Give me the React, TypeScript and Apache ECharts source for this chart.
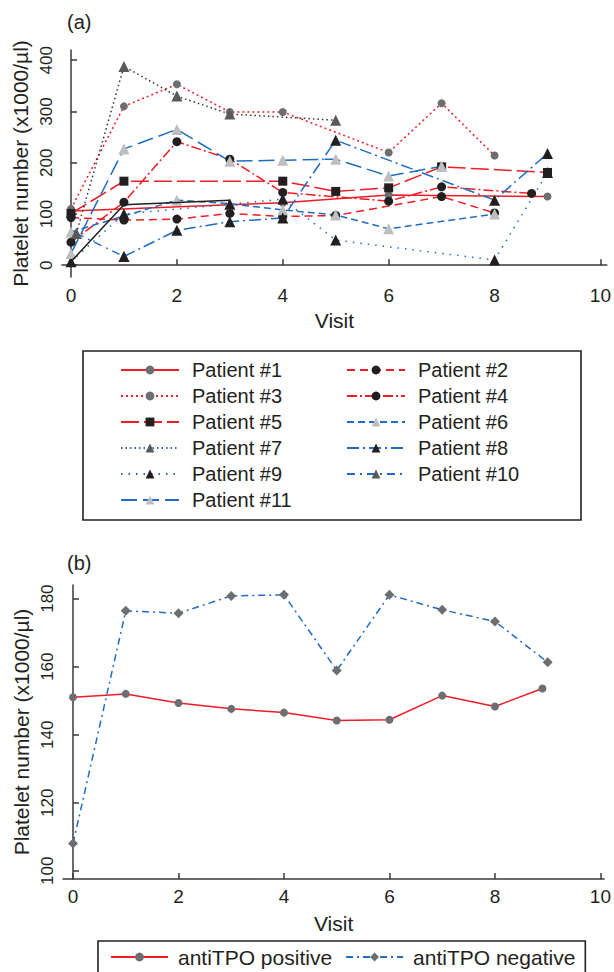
import React, { useEffect, useRef } from "react";
import * as echarts from "echarts";

const RED = "#ee1c25";
const BLUE = "#1f6cc0";
const INK = "#231f20";
const GRAY = "#6d6e71";
const LIGHT = "#bcbec0";
const DARK = "#58595b";
const FONT = "Liberation Sans, Arial, Helvetica, sans-serif";

// Panel (a): platelet counts per patient, [visit, x1000/µl]
const patientNames = [
  "Patient #1", "Patient #2", "Patient #3", "Patient #4", "Patient #5", "Patient #6",
  "Patient #7", "Patient #8", "Patient #9", "Patient #10", "Patient #11",
];
const p1 = [[0, 106], [4, 122], [6, 137], [9, 134]];
const p2 = [[0, 93], [1, 88], [2, 90], [3, 101], [4, 95], [5, 97], [7, 134], [8, 102]];
const p3 = [[0, 110], [1, 310], [2, 353], [3, 299], [4, 299], [6, 220], [7, 316], [8, 214]];
const p4 = [[0, 45], [1, 123], [2, 241], [3, 207], [4, 142], [6, 125], [7, 153], [8.7, 140]];
const p5 = [[0, 101], [1, 164], [4, 164], [5, 144], [6, 151], [7, 192], [9, 181]];
const p6 = [[0, 65], [2, 127], [3, 120], [4, 108], [5, 98], [6, 71], [8, 100]];
const p7 = [[0.1, 62], [1, 388], [2, 330], [3, 295], [5, 283]];
const p8 = [[1, 17], [2, 68], [3, 85], [4, 92], [5, 244], [8, 127], [9, 218]];
const p9 = [[0, 7], [1, 100], [3, 119], [4, 129], [5, 49], [8, 10], [9, 181]];
const p10 = [[0.1, 62], [1, 17]];
const p11 = [[0, 23], [1, 227], [2, 265], [3, 203], [4, 205], [5, 207], [6, 174], [7, 193]];
const blackTrace = [[0, 7], [1, 118], [3, 127]];

const xTicksA = [0, 2, 4, 6, 8, 10];
const yTicksA = [0, 100, 200, 300, 400];

// Panel (b): mean platelet counts by antiTPO status
const visitsB = [0, 1, 2, 3, 4, 5, 6, 7, 8, 9];
const antiPosX = [0, 1, 2, 3, 4, 5, 6, 7, 8, 8.9];
const antiPos = [151, 152, 149.3, 147.6, 146.5, 144.2, 144.4, 151.5, 148.3, 153.6];
const antiNeg = [108, 176.4, 175.7, 180.8, 181.1, 158.9, 181.1, 176.7, 173.3, 161.3];
const xTicksB = [0, 2, 4, 6, 8, 10];
const yTicksB = [100, 120, 140, 160, 180];

type Style = { color: string; dash: any; symbol: string; symColor: string; size: number; legendColor?: string; z?: number };
const styles: Style[] = [
  { color: RED, dash: "solid", symbol: "circle", symColor: GRAY, size: 8 },
  { color: RED, dash: [8, 5], symbol: "circle", symColor: INK, size: 9 },
  { color: RED, dash: [2, 3], symbol: "circle", symColor: GRAY, size: 8 },
  { color: RED, dash: [10, 3, 2, 3], symbol: "circle", symColor: INK, size: 9 },
  { color: RED, dash: [18, 5], symbol: "rect", symColor: INK, size: 9 },
  { color: BLUE, dash: [7, 4], symbol: "triangle", symColor: LIGHT, size: 11 },
  { color: "#333333", dash: [1.5, 3], symbol: "triangle", symColor: DARK, size: 11, legendColor: BLUE },
  { color: BLUE, dash: [12, 4, 2, 4], symbol: "triangle", symColor: INK, size: 11 },
  { color: BLUE, dash: [1.5, 6], symbol: "triangle", symColor: INK, size: 11 },
  { color: BLUE, dash: [8, 5, 2, 5], symbol: "triangle", symColor: DARK, size: 11, z: 1 },
  { color: BLUE, dash: [16, 6], symbol: "triangle", symColor: LIGHT, size: 11 },
];
const patientData = [p1, p2, p3, p4, p5, p6, p7, p8, p9, p10, p11];

export default function App() {
  const ref = useRef<HTMLDivElement>(null);
  useEffect(() => {
    document.body.style.margin = "0";
    if (!ref.current) return;
    const chart = echarts.init(ref.current, null, { renderer: "svg" });

    const axisLine = { show: true, lineStyle: { color: "#3a3a3a", width: 1.5 } };
    const tick = (vals: number[]) => ({ show: true, inside: true, length: 6, customValues: vals, lineStyle: { color: "#3a3a3a", width: 1.5 } });

    const seriesA: any[] = patientData.map((d, i) => {
      const s = styles[i];
      return {
        name: patientNames[i],
        type: "line",
        xAxisIndex: 0,
        yAxisIndex: 0,
        data: d,
        symbol: s.symbol,
        symbolSize: s.size,
        z: s.z ?? 2,
        lineStyle: { color: s.color, type: s.dash, width: 1.5 },
        itemStyle: { color: s.symColor },
      };
    });
    seriesA.push({
      name: "trace",
      type: "line",
      xAxisIndex: 0,
      yAxisIndex: 0,
      data: blackTrace,
      symbol: "none",
      lineStyle: { color: INK, width: 1.5 },
      z: 3,
    });

    const legendAData = patientNames.map((n, i) =>
      styles[i].legendColor ? { name: n, lineStyle: { color: styles[i].legendColor } } : { name: n }
    );

    chart.setOption({
      animation: false,
      textStyle: { fontFamily: FONT, color: INK },
      title: [
        { text: "(a)", left: 62, top: 7, textStyle: { fontSize: 20, fontWeight: "normal", color: INK, fontFamily: FONT } },
        { text: "(b)", left: 62, top: 548, textStyle: { fontSize: 20, fontWeight: "normal", color: INK, fontFamily: FONT } },
      ],
      grid: [
        { left: 62, top: 50, width: 546, height: 227 },
        { left: 63, top: 585, width: 542, height: 294 },
      ],
      xAxis: [
        {
          gridIndex: 0, type: "value", min: -0.17, max: 10.12,
          name: "Visit", nameLocation: "middle", nameGap: 33,
          nameTextStyle: { fontSize: 21, color: INK, fontFamily: FONT, verticalAlign: "top" },
          axisLine, axisTick: tick(xTicksA), splitLine: { show: false },
          axisLabel: { customValues: xTicksA, fontSize: 19, color: INK, margin: 9, fontFamily: FONT },
        },
        {
          gridIndex: 1, type: "value", min: -0.19, max: 10.07,
          name: "Visit", nameLocation: "middle", nameGap: 34,
          nameTextStyle: { fontSize: 21, color: INK, fontFamily: FONT, verticalAlign: "top" },
          axisLine, axisTick: tick(xTicksB), splitLine: { show: false },
          axisLabel: { customValues: xTicksB, fontSize: 19, color: INK, margin: 8, fontFamily: FONT },
        },
      ],
      yAxis: [
        {
          gridIndex: 0, type: "value", min: -23, max: 420,
          name: "Platelet number (x1000/µl)", nameLocation: "middle", nameGap: 31,
          nameTextStyle: { fontSize: 21, color: INK, fontFamily: FONT },
          axisLine, axisTick: tick(yTicksA), splitLine: { show: false },
          axisLabel: { show: false },
        },
        {
          gridIndex: 1, type: "value", min: 97.6, max: 184,
          name: "Platelet number (x1000/µl)", nameLocation: "middle", nameGap: 31,
          nameTextStyle: { fontSize: 21, color: INK, fontFamily: FONT },
          axisLine, axisTick: tick(yTicksB), splitLine: { show: false },
          axisLabel: { show: false },
        },
      ],
      legend: [
        {
          data: legendAData,
          left: 83, top: 351, width: 455,
          orient: "horizontal",
          padding: [8, 13, 9, 37],
          itemWidth: 58, itemHeight: 11, itemGap: 4,
          borderColor: INK, borderWidth: 1.6,
          selectedMode: false,
          textStyle: { fontSize: 20, color: INK, fontFamily: FONT, width: 150, lineHeight: 22, padding: [0, 0, 0, 8] },
        },
        {
          data: ["antiTPO positive", "antiTPO negative"],
          left: 98, top: 941, width: 480,
          orient: "horizontal",
          padding: [4, 10, 10, 12],
          itemWidth: 57, itemHeight: 11, itemGap: 13,
          borderColor: INK, borderWidth: 1.6,
          selectedMode: false,
          textStyle: { fontSize: 21, color: INK, fontFamily: FONT, lineHeight: 24, padding: [0, 0, 0, 5] },
        },
      ],
      series: [
        ...seriesA,
        {
          name: "antiTPO positive", type: "line", xAxisIndex: 1, yAxisIndex: 1,
          data: antiPosX.map((x, i) => [x, antiPos[i]]),
          symbol: "circle", symbolSize: 8,
          lineStyle: { color: RED, width: 1.5 },
          itemStyle: { color: GRAY },
        },
        {
          name: "antiTPO negative", type: "line", xAxisIndex: 1, yAxisIndex: 1,
          data: visitsB.map((x, i) => [x, antiNeg[i]]),
          symbol: "diamond", symbolSize: 10,
          lineStyle: { color: BLUE, width: 1.5, type: [7, 4, 2, 4] },
          itemStyle: { color: GRAY },
        },
      ],
    });

    // Rotated y tick labels, positioned through the axes' own scales
    const yLabelText = (axisIndex: number, v: number, cx: number) => {
      const py = chart.convertToPixel({ yAxisIndex: axisIndex } as any, v) as unknown as number;
      return {
        type: "text",
        x: cx,
        y: py,
        rotation: Math.PI / 2,
        silent: true,
        style: {
          text: String(v),
          fontSize: 17,
          fontFamily: FONT,
          fill: INK,
          align: "center",
          verticalAlign: "middle",
          textAlign: "center",
          textVerticalAlign: "middle",
        },
      };
    };
    chart.setOption({
      graphic: [
        ...yTicksA.map((v) => yLabelText(0, v, 46)),
        ...yTicksB.map((v) => yLabelText(1, v, 47)),
      ],
    });
    return () => chart.dispose();
  }, []);
  return <div ref={ref} style={{ width: 614, height: 972 }} />;
}
